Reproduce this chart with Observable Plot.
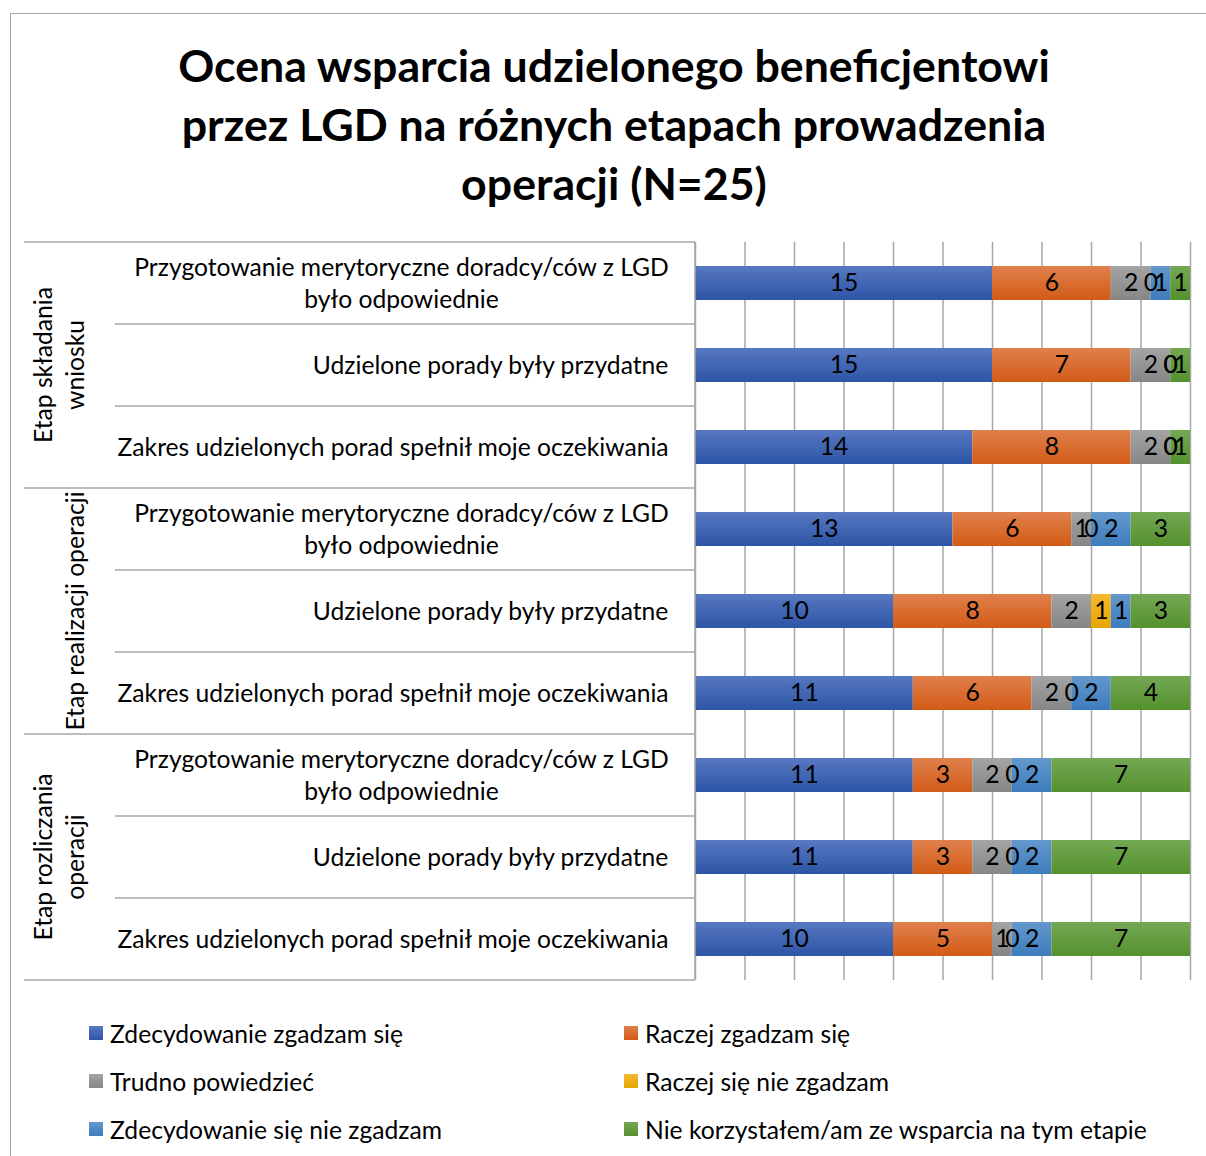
<!DOCTYPE html>
<html>
<head>
<meta charset="utf-8">
<script src="https://cdn.jsdelivr.net/npm/d3@7"></script>
<script src="https://cdn.jsdelivr.net/npm/@observablehq/plot@0.6"></script>
<style>
  html, body { margin: 0; padding: 0; background: #fff; }
  body { width: 1206px; height: 1156px; position: relative; overflow: hidden; font-family: Lato, "Open Sans", sans-serif; color: #000; }
  #frame { position: absolute; left: 10px; top: 13px; width: 1200px; height: 1160px; border-left: 1.5px solid #a3a3a3; border-top: 1.5px solid #a3a3a3; }
  #title { position: absolute; left: 22px; width: 1184px; text-align: center; font-weight: bold; line-height: 59px; }
  #chart { position: absolute; left: 0; top: 230px; }
  .leg { position: absolute; display: flex; align-items: center; height: 30px; white-space: nowrap; }
  .leg .sw { width: 14px; height: 14px; margin-right: 7px; flex: none; }
</style>
</head>
<body>
<div id="frame"></div>
<div id="title"></div>
<div id="chart"></div>
<div id="legend"></div>
<script>
// ---------- DATA ----------
const titleLines = ["Ocena wsparcia udzielonego beneficjentowi", "przez LGD na różnych etapach prowadzenia", "operacji (N=25)"];
const stages = ["Etap składania\nwniosku", "Etap realizacji operacji", "Etap rozliczania\noperacji"];
const statements = [
  "Przygotowanie merytoryczne doradcy/ców z LGD\nbyło odpowiednie",
  "Udzielone porady były przydatne",
  "Zakres udzielonych porad spełnił moje oczekiwania"
];
const categories = [
  "Zdecydowanie zgadzam się",
  "Raczej zgadzam się",
  "Trudno powiedzieć",
  "Raczej się nie zgadzam",
  "Zdecydowanie się nie zgadzam",
  "Nie korzystałem/am ze wsparcia na tym etapie"
];
// values per row (stage 1: rows 1-3, stage 2: rows 4-6, stage 3: rows 7-9)
const zdecydowanieZgadzam   = [15, 15, 14, 13, 10, 11, 11, 11, 10];
const raczejZgadzam         = [ 6,  7,  8,  6,  8,  6,  3,  3,  5];
const trudnoPowiedziec      = [ 2,  2,  2,  1,  2,  2,  2,  2,  1];
const raczejNieZgadzam      = [ 0,  0,  0,  0,  1,  0,  0,  0,  0];
const zdecydowanieNie       = [ 1,  0,  0,  2,  1,  2,  2,  2,  2];
const nieKorzystalem        = [ 1,  1,  1,  3,  3,  4,  7,  7,  7];
const series = [zdecydowanieZgadzam, raczejZgadzam, trudnoPowiedziec, raczejNieZgadzam, zdecydowanieNie, nieKorzystalem];
const xMax = 25;
const gridTicks = d3.range(0, xMax + 0.001, 2.5);

// ---------- STYLE ----------
const gradTop    = ["#5878c2", "#e0804c", "#a4a4a4", "#f4b930", "#6498cd", "#73a853"];
const gradBottom = ["#2c55a5", "#d25b16", "#868686", "#e5a600", "#3d7cbd", "#55912f"];
const FONT = "Lato";

// ---------- FONT SIZING ----------
const ctx = document.createElement("canvas").getContext("2d");
function measure(text, size, weight = "normal") {
  ctx.font = `${weight} ${size}px ${FONT}`;
  return ctx.measureText(text).width;
}
const baseSize = 22 * 552 / measure("Zakres udzielonych porad spełnił moje oczekiwania", 22);
const titleSize = 40 * 873 / measure(titleLines[0], 40, "bold");

// ---------- TITLE ----------
const titleEl = document.getElementById("title");
titleEl.style.fontSize = titleSize + "px";
titleEl.style.top = (65 - 29.5) + "px";
titleEl.innerHTML = titleLines.map(l => l.replace(/&/g, "&amp;").replace(/</g, "&lt;")).join("<br>");

// ---------- TABLE ----------
const rows = stages.flatMap((st, si) => statements.map((q, qi) => ({id: `${si}-${qi}`, stage: st, statement: q, si, qi})));
const table = rows.flatMap((r, i) => categories.map((c, ci) => ({row: r.id, category: c, value: series[ci][i]})));

// ---------- CHART ----------
const W = 1206, H = 760, MT = 12, MB = 10, ML = 695, MR = 16;
const GROUP_LEFT = 24, ROW_LEFT = 115, TEXT_GAP = 26, LINE_H = 32, STAGE_LAST_X = 75, STAGE_GAP = 32;
const lineColor = "#a6a6a6";

function defsMark() {
  const defs = d3.create("svg:defs");
  categories.forEach((c, i) => {
    const g = defs.append("linearGradient").attr("id", "grad" + i).attr("x1", 0).attr("y1", 0).attr("x2", 0).attr("y2", 1);
    g.append("stop").attr("offset", "0%").attr("stop-color", gradTop[i]);
    g.append("stop").attr("offset", "100%").attr("stop-color", gradBottom[i]);
  });
  return defs.node();
}

function tableMark(index, scales, values, dims) {
  const y = scales.y, x = scales.x;
  const bw = typeof y.bandwidth === "function" ? y.bandwidth() : y.bandwidth;
  const step = typeof y.step === "function" ? y.step() : y.step;
  const x0 = x(0);
  const top = dims.marginTop, bottom = dims.height - dims.marginBottom;
  const g = d3.create("svg:g").attr("font-family", FONT).attr("font-size", baseSize).attr("fill", "#000");
  const hline = (x1, yy) => g.append("line").attr("x1", x1).attr("x2", x0).attr("y1", yy).attr("y2", yy)
    .attr("stroke", lineColor).attr("stroke-width", 1.5);
  rows.forEach(r => {
    const cy = y(r.id) + bw / 2;
    hline(r.qi === 0 ? GROUP_LEFT : ROW_LEFT, cy - step / 2);
    const lines = r.statement.split("\n");
    const w = d3.max(lines, l => measure(l, baseSize));
    const cx = x0 - TEXT_GAP - w / 2;
    const t = g.append("text").attr("text-anchor", "middle");
    lines.forEach((l, li) => t.append("tspan").attr("x", cx)
      .attr("y", cy + (li - (lines.length - 1) / 2) * LINE_H).attr("dy", "0.35em").text(l));
  });
  hline(GROUP_LEFT, bottom);
  g.append("line").attr("x1", x0).attr("x2", x0).attr("y1", top).attr("y2", bottom)
    .attr("stroke", lineColor).attr("stroke-width", 1.5);
  stages.forEach((st, si) => {
    const ids = rows.filter(r => r.si === si).map(r => r.id);
    const cy = (y(ids[0]) + y(ids[ids.length - 1]) + bw) / 2;
    const lines = st.split("\n");
    lines.forEach((l, li) => {
      const lx = STAGE_LAST_X - (lines.length - 1 - li) * STAGE_GAP;
      g.append("text").attr("transform", `translate(${lx},${cy}) rotate(-90)`)
        .attr("text-anchor", "middle").attr("dy", "0.35em").text(l);
    });
  });
  return g.node();
}

const chart = Plot.plot({
  width: W, height: H,
  marginTop: MT, marginBottom: MB, marginLeft: ML, marginRight: MR,
  style: {fontFamily: FONT, fontSize: baseSize + "px", background: "transparent", overflow: "visible"},
  x: {domain: [0, xMax], axis: null},
  y: {domain: rows.map(r => r.id), axis: null, paddingInner: 0.585, paddingOuter: 0.2925, align: 0.5},
  color: {domain: categories, range: categories.map((c, i) => `url(#grad${i})`)},
  marks: [
    defsMark,
    Plot.ruleX(gridTicks, {x: d => d, stroke: lineColor, strokeWidth: 1.5}),
    Plot.barX(table, Plot.stackX({x: "value", y: "row", fill: "category"})),
    Plot.text(table, Plot.stackX({x: "value", y: "row", z: "category", text: d => String(d.value), fill: "#000", fontSize: baseSize})),
    tableMark
  ]
});
document.getElementById("chart").appendChild(chart);

// ---------- LEGEND ----------
const legCols = [89, 624], legRows = [1033, 1081, 1129];
const legend = document.getElementById("legend");
categories.forEach((c, i) => {
  const item = document.createElement("div");
  item.className = "leg";
  item.style.left = legCols[i % 2] + "px";
  item.style.top = (legRows[Math.floor(i / 2)] - 15) + "px";
  item.style.fontSize = baseSize + "px";
  const sw = document.createElement("span");
  sw.className = "sw";
  sw.style.background = `linear-gradient(${gradTop[i]}, ${gradBottom[i]})`;
  const tx = document.createElement("span");
  tx.textContent = c;
  item.appendChild(sw); item.appendChild(tx);
  legend.appendChild(item);
});
</script>
</body>
</html>
